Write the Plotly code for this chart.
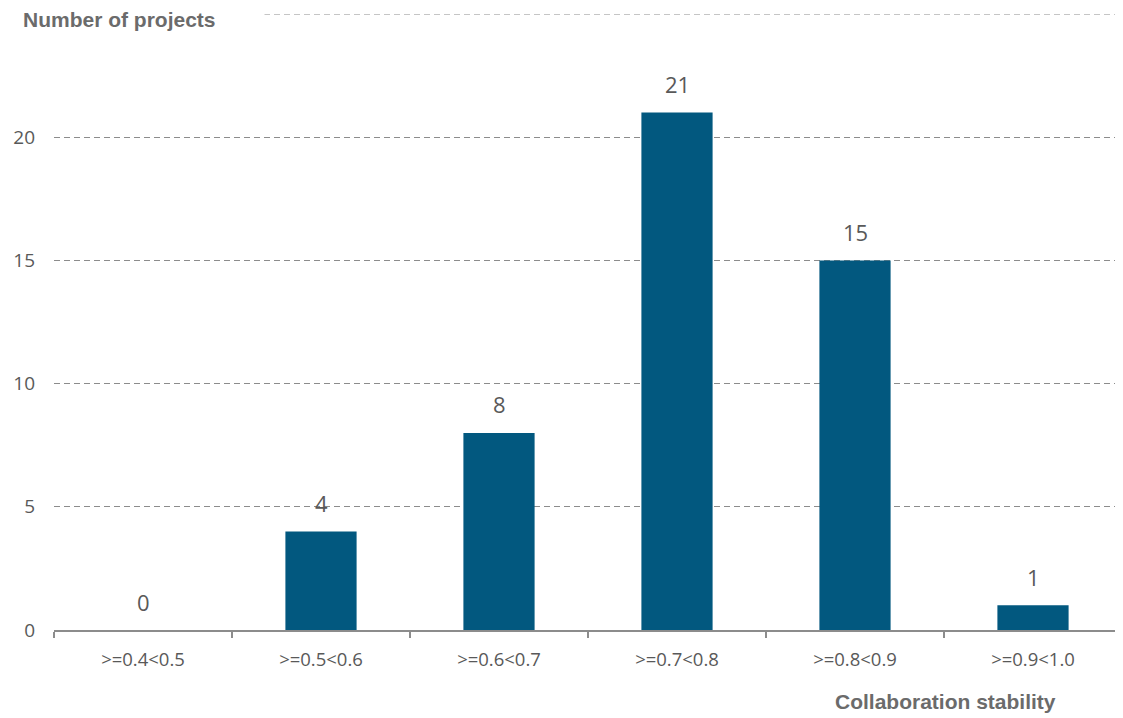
import plotly.graph_objects as go

categories = [">=0.4<0.5", ">=0.5<0.6", ">=0.6<0.7", ">=0.7<0.8", ">=0.8<0.9", ">=0.9<1.0"]
projects = [0, 4, 8, 21, 15, 1]
y_ticks = [0, 5, 10, 15, 20, 25]
y_tick_labels = ["0", "5", "10", "15", "20", ""]
y_max = 25

BAR = "#02587F"
TXT = "#595959"
TITLE = "#6B6B6B"
GRID = "#8C8C8C"

fig = go.Figure()
fig.add_trace(go.Bar(x=categories, y=projects, marker=dict(color=BAR, line=dict(width=0)),
                     width=0.4, hoverinfo="x+y"))

for c, v in zip(categories, projects):
    fig.add_annotation(x=c, y=v, text=str(v), showarrow=False, yanchor="middle", yshift=28.5,
                       font=dict(family="Open Sans", size=22, color=TXT))

# top gridline (plotly omits the gridline on the plot edge)
fig.add_shape(type="line", xref="paper", yref="y", x0=0, x1=1, y0=y_max, y1=y_max,
              line=dict(color=GRID, width=1.2, dash="6px,4px"), layer="below")

fig.add_annotation(xref="paper", yref="paper", x=-32/1068, y=1.0, xanchor="left", yanchor="middle",
                   yshift=-5,
                   text="<b>Number of projects</b>", showarrow=False, width=241, align="left",
                   bgcolor="white", borderpad=0,
                   font=dict(family="Liberation Sans", size=21, color=TITLE))
fig.add_annotation(xref="paper", yref="paper", x=(1058-54)/1068, y=-71/616, xanchor="right", yanchor="middle",
                   text="<b>Collaboration stability</b>", showarrow=False,
                   font=dict(family="Liberation Sans", size=21, color=TITLE))

fig.update_layout(
    width=1115, height=710,
    margin=dict(l=46, r=1, t=6, b=88),
    plot_bgcolor="white", paper_bgcolor="white",
    showlegend=False, bargap=0.6,
    xaxis=dict(showline=True, linecolor=GRID, linewidth=1.5, ticks="outside", tickson="boundaries",
               ticklen=6, tickcolor=GRID, tickwidth=1.5, showgrid=False,
               tickfont=dict(family="Open Sans", size=18.5, color=TXT), ticklabelstandoff=12),
    yaxis=dict(range=[0, y_max], tickvals=y_ticks, ticktext=y_tick_labels, showgrid=True,
               gridcolor=GRID, griddash="6px,4px", gridwidth=1.2, zeroline=False, showline=False,
               tickfont=dict(family="Open Sans", size=19, color=TXT), ticklabelstandoff=18),
)

fig.write_html("out.html")
